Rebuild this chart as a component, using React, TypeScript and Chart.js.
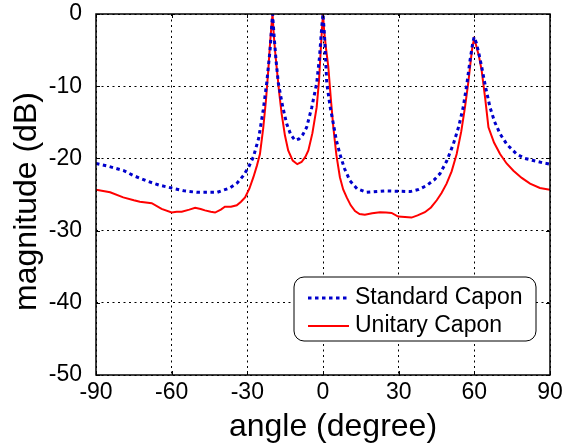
import { useEffect, useRef } from "react";
import Chart from "chart.js/auto";

// ---- data ----
const stdAngle = [
  -90, -85, -79, -75, -70, -65, -60, -55, -50, -42, -37, -34, -31.6, -29.5, -27.6, -25.5, -23.7, -22.3, -21, -20.4, -20,
  -19.4, -18.6, -17.7, -16, -14.4, -12.8, -11.1, -9.5, -8, -6.5, -4.5, -2.5, -1.4, -0.5, 0,
  0.6, 1.5, 2.8, 4.1, 5.3, 6.7, 8.5, 10.7, 13.5, 17.3, 25, 34.5, 38, 41.1, 44, 46.4, 49, 51.7, 53.8, 55.6, 57, 58.3, 59.3, 59.9,
  60.8, 62, 62.9, 64.5, 66.2, 68, 70.2, 73, 76.8, 80, 83.4, 87, 90,
];
const stdCapon = [
  -20.7, -21.1, -21.7, -22.4, -23.1, -23.7, -24.1, -24.5, -24.7, -24.7, -24.1, -23.4, -22.4, -21.2, -19.8, -17.2, -13.3, -9.5, -5, -2, 0,
  -3, -6.5, -9.6, -12.8, -15.2, -16.7, -17.5, -17.3, -16.7, -15.7, -13, -9.6, -6, -1.8, 0,
  -3, -9.6, -12.8, -15.2, -17.5, -19.4, -21.4, -23.1, -24.2, -24.7, -24.5, -24.6, -24.3, -23.75, -23, -22.1, -20.4, -18, -15.6, -12.9, -9.8, -6.4, -4.2, -3.2,
  -4, -5.8, -7.3, -10.2, -12.9, -14.9, -16.6, -18.1, -19.4, -20, -20.3, -20.6, -20.8,
];

const uniAngle = [
  -90, -84.4, -79.2, -75, -72.6, -67.9, -64, -60, -58, -56, -53, -50.7, -48.5, -46.8, -44.5, -42.8, -40.5, -38.9, -36.5, -34.2,
  -32.5, -30.9, -29.2, -27.6, -26.2, -25, -23.7, -22.6, -21.7, -21, -20.4, -20,
  -19.5, -18.9, -18.4, -17.4, -16.4, -15.1, -13.8, -12, -10.2, -8.5, -7, -5.8, -4.2, -2.5, -1.6, -0.9, -0.4, 0,
  0.5, 1.2, 2.1, 3.1, 4.1, 5.3, 6.7, 8, 9.4, 11, 12.7, 14.5, 16.6, 19.5, 22.6, 25, 27.2, 29.8, 32.5, 35.1, 37.5, 40.4,
  42.8, 45.1, 47, 49, 51, 53, 54.8, 56.3, 57.6, 58.6, 59.3, 59.9,
  60.6, 61.8, 62.9, 64.3, 65.6, 67.8, 70.2, 72.8, 75.5, 78.8, 82.1, 86, 90,
];
const uniCapon = [
  -24.35, -24.7, -25.4, -25.8, -26, -26.2, -27, -27.5, -27.4, -27.4, -27.1, -26.85, -27, -27.2, -27.4, -27.5, -27.1, -26.7, -26.7, -26.5,
  -26, -25.4, -24.2, -22.6, -21, -19.4, -15.8, -11.9, -7.8, -4.1, -1.5, 0,
  -3, -5.5, -7.3, -10.8, -13.8, -16.8, -18.9, -20.3, -20.8, -20.5, -19.8, -18.9, -16.5, -12.9, -9.3, -5, -2, 0,
  -2.5, -4.8, -7.3, -11.7, -15.7, -19.5, -22.6, -24.3, -25.4, -26.5, -27.3, -27.7, -27.8, -27.6, -27.45, -27.5, -27.55, -28.05, -28.1, -28.2, -27.9, -27.45,
  -26.8, -25.8, -24.8, -23.5, -21.8, -19.4, -16.3, -12.9, -9.5, -6.4, -4.4, -3.5,
  -4.2, -5.8, -7.8, -11.7, -15.7, -17.8, -19.4, -20.7, -21.7, -22.7, -23.5, -24.1, -24.35,
];

const xTickValues = [-90, -60, -30, 0, 30, 60, 90];
const yTickValues = [0, -10, -20, -30, -40, -50];
const seriesLabels = ["Standard Capon", "Unitary Capon"];
const xTitle = "angle (degree)";
const yTitle = "magnitude (dB)";

const FONT = "'Liberation Sans', Arial, Helvetica, sans-serif";
const BLUE = "rgb(0,0,204)";
const RED = "rgb(255,0,0)";

const framePlugin = {
  id: "frame",
  afterDatasetsDraw(chart: any) {
    const { ctx, chartArea: a, scales } = chart;
    ctx.save();
    // inner tick marks
    ctx.strokeStyle = "#000";
    ctx.lineWidth = 1;
    ctx.setLineDash([]);
    const tl = 4;
    xTickValues.forEach((v) => {
      const x = Math.round(scales.x.getPixelForValue(v)) + 0.5;
      ctx.beginPath();
      ctx.moveTo(x, a.bottom);
      ctx.lineTo(x, a.bottom - tl);
      ctx.moveTo(x, a.top);
      ctx.lineTo(x, a.top + tl);
      ctx.stroke();
    });
    yTickValues.forEach((v) => {
      const y = Math.round(scales.y.getPixelForValue(v)) + 0.5;
      ctx.beginPath();
      ctx.moveTo(a.left, y);
      ctx.lineTo(a.left + tl, y);
      ctx.moveTo(a.right, y);
      ctx.lineTo(a.right - tl, y);
      ctx.stroke();
    });
    // box
    ctx.lineWidth = 1.5;
    ctx.strokeRect(a.left, a.top, a.right - a.left, a.bottom - a.top);

    // legend
    const lx = 294, ly = 277, lw = 242, lh = 64, r = 10;
    ctx.beginPath();
    ctx.moveTo(lx + r, ly);
    ctx.lineTo(lx + lw - r, ly);
    ctx.arcTo(lx + lw, ly, lx + lw, ly + r, r);
    ctx.lineTo(lx + lw, ly + lh - r);
    ctx.arcTo(lx + lw, ly + lh, lx + lw - r, ly + lh, r);
    ctx.lineTo(lx + r, ly + lh);
    ctx.arcTo(lx, ly + lh, lx, ly + lh - r, r);
    ctx.lineTo(lx, ly + r);
    ctx.arcTo(lx, ly, lx + r, ly, r);
    ctx.closePath();
    ctx.fillStyle = "#fff";
    ctx.fill();
    ctx.lineWidth = 1;
    ctx.strokeStyle = "#000";
    ctx.stroke();

    const rows = [298, 326];
    chart.data.datasets.forEach((ds: any, i: number) => {
      const y = rows[i];
      ctx.beginPath();
      ctx.strokeStyle = ds.borderColor;
      ctx.lineWidth = ds.borderWidth;
      ctx.setLineDash(ds.borderDash || []);
      ctx.moveTo(308, y);
      ctx.lineTo(349, y);
      ctx.stroke();
      ctx.setLineDash([]);
      ctx.fillStyle = "#000";
      ctx.font = `23px ${FONT}`;
      ctx.textAlign = "left";
      ctx.textBaseline = "middle";
      ctx.fillText(ds.label, 355, y);
    });

    // axis titles
    ctx.fillStyle = "#000";
    ctx.font = `32px ${FONT}`;
    ctx.textAlign = "center";
    ctx.textBaseline = "alphabetic";
    ctx.fillText(xTitle, 333, 436);
    ctx.save();
    ctx.translate(35.5, 201.5);
    ctx.rotate(-Math.PI / 2);
    ctx.fillText(yTitle, 0, 0);
    ctx.restore();
    ctx.restore();
  },
};

export default function App() {
  const ref = useRef<HTMLCanvasElement>(null);
  useEffect(() => {
    if (!ref.current) return;
    const chart = new Chart(ref.current, {
      type: "line",
      data: {
        datasets: [
          {
            label: seriesLabels[0],
            data: stdAngle.map((x, i) => ({ x, y: stdCapon[i] })),
            borderColor: BLUE,
            borderWidth: 3,
            borderDash: [3.5, 3.5],
            pointRadius: 0,
            fill: false,
            tension: 0,
          },
          {
            label: seriesLabels[1],
            data: uniAngle.map((x, i) => ({ x, y: uniCapon[i] })),
            borderColor: RED,
            borderWidth: 2,
            pointRadius: 0,
            fill: false,
            tension: 0,
          },
        ],
      },
      options: {
        animation: false,
        responsive: false,
        devicePixelRatio: 1,
        layout: { padding: { top: 14, right: 17, left: 0, bottom: 0 } },
        plugins: { legend: { display: false }, tooltip: { enabled: false } },
        scales: {
          x: {
            type: "linear",
            min: -90,
            max: 90,
            afterBuildTicks: (s: any) => {
              s.ticks = xTickValues.map((v) => ({ value: v }));
            },
            afterFit: (s: any) => {
              s.height = 70;
              s.paddingLeft = 0;
              s.paddingRight = 0;
            },
            ticks: { color: "#000", font: { family: FONT, size: 23 }, padding: 4, maxRotation: 0, autoSkip: false },
            grid: { color: "#000", lineWidth: 1, drawTicks: false },
            border: { display: false, dash: [2, 3.5] },
          },
          y: {
            type: "linear",
            min: -50,
            max: 0,
            afterBuildTicks: (s: any) => {
              s.ticks = yTickValues.map((v) => ({ value: v }));
            },
            afterFit: (s: any) => {
              s.width = 96;
              s.paddingTop = 0;
              s.paddingBottom = 0;
            },
            ticks: { color: "#000", font: { family: FONT, size: 23 }, padding: 14, autoSkip: false },
            grid: { color: "#000", lineWidth: 1, drawTicks: false },
            border: { display: false, dash: [2, 3.5] },
          },
        },
      },
      plugins: [framePlugin],
    });
    return () => chart.destroy();
  }, []);
  return (
    <div style={{ position: "fixed", left: 0, top: 0, width: 567, height: 445, background: "#fff" }}>
      <canvas ref={ref} width={567} height={445} />
    </div>
  );
}
